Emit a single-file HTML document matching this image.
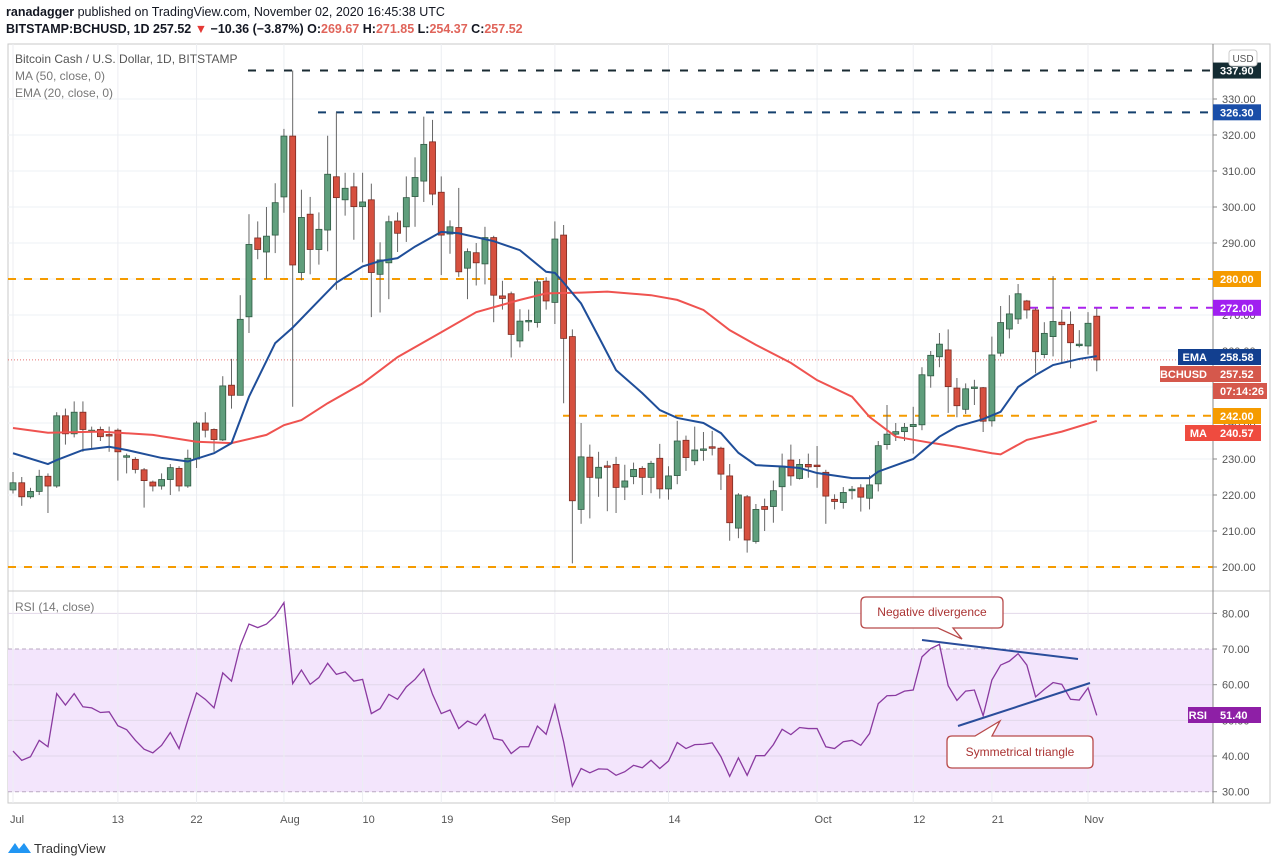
<!DOCTYPE html>
<html><head><meta charset="utf-8"><style>
html,body{margin:0;padding:0;background:#fff;width:1280px;height:866px;overflow:hidden}
svg{display:block;font-family:"Liberation Sans",sans-serif}
</style></head><body>
<svg id="chart" width="1280" height="866" viewBox="0 0 1280 866">
<g>
<text x="6" y="16" font-size="12.5" fill="#131722"><tspan font-weight="bold">ranadagger</tspan> published on TradingView.com, November 02, 2020 16:45:38 UTC</text>
<text x="6" y="33" font-size="12.5" font-weight="bold" fill="#131722">BITSTAMP:BCHUSD, 1D  257.52 <tspan fill="#e53935">▼</tspan> −10.36 (−3.87%) O:<tspan fill="#e0645a">269.67</tspan> H:<tspan fill="#e0645a">271.85</tspan> L:<tspan fill="#e0645a">254.37</tspan> C:<tspan fill="#e0645a">257.52</tspan></text>
</g>
<rect x="8" y="44" width="1262" height="759" fill="none" stroke="#c8c8c8"/>
<rect x="8" y="649" width="1205" height="143" fill="#f3e5fc"/>
<g id="grid"></g>
<g id="levels"></g>
<g id="candles"></g>
<g id="lines"></g>
<g id="rsi"></g>
<line x1="8" y1="591" x2="1270" y2="591" stroke="#c8c8c8"/>
<line x1="1213" y1="44" x2="1213" y2="803" stroke="#888"/>
<g id="axis"></g>
<g id="labels"></g>
<g font-size="12" fill="#555">
<text x="15" y="63">Bitcoin Cash / U.S. Dollar, 1D, BITSTAMP</text>
<text x="15" y="80" fill="#777">MA (50, close, 0)</text>
<text x="15" y="97" fill="#777">EMA (20, close, 0)</text>
<text x="15" y="611" fill="#777">RSI (14, close)</text>
</g>
<g><rect x="1229" y="50" width="28" height="16" rx="3" fill="#fff" stroke="#ccc"/><text x="1243" y="62" font-size="10" fill="#555" text-anchor="middle">USD</text></g>
<g>
<line x1="922" y1="640" x2="1078" y2="659" stroke="#2a4d9b" stroke-width="2"/>
<line x1="958" y1="726" x2="1090" y2="683" stroke="#2a4d9b" stroke-width="2"/>
<path d="M866,597 H998 Q1003,597 1003,602 V623 Q1003,628 998,628 H953 L962,639 L938,628 H866 Q861,628 861,623 V602 Q861,597 866,597 Z" fill="#fff" stroke="#b84a4a" stroke-width="1.3"/>
<text x="932" y="616" font-size="12" fill="#a33" text-anchor="middle">Negative divergence</text>
<path d="M952,736 H975 L1000,721 L992,736 H1088 Q1093,736 1093,741 V763 Q1093,768 1088,768 H952 Q947,768 947,763 V741 Q947,736 952,736 Z" fill="#fff" stroke="#b84a4a" stroke-width="1.3"/>
<text x="1020" y="756" font-size="12" fill="#a33" text-anchor="middle">Symmetrical triangle</text>
</g>
<g>
<path d="M8,853 L15,843 L19,849 L24,843 L31,853 Z" fill="#2196f3"/>
<text x="34" y="853" font-size="13" fill="#333">TradingView</text>
</g>
</svg>
<script>
const opens=[221.4,223.4,219.5,221,225.2,222.5,242,237,243,237.5,238.2,236.8,238,230.6,229.9,227,223.6,222.5,224.3,227.4,222.5,230,240,238.2,235.3,250.5,247.7,269.5,291.4,287.5,292.2,302.8,319.7,281.8,298,288.2,293.6,308.4,302,305.6,300.1,302,281.3,284.5,296.1,294.5,302.9,307.2,318.1,304.1,292.5,294.3,283,287.3,284.2,291.5,275.3,275.9,262.8,268.2,267.9,279.4,273.5,292.2,264,216,230.5,224.7,228.1,228.5,222.2,225.1,227.4,224.9,230.2,221.7,225.4,235.2,229.5,232.6,233.4,233,225.3,210.8,219.5,207.1,216.8,216.8,222.3,229.7,224.6,228.5,228.3,226.3,218.8,217.9,221.2,222,219.1,223.1,234,236.9,237.6,239,239.5,253.1,258.4,260.3,249.7,243.8,249.8,249.8,240.6,259.4,266.1,268.9,273.9,271.4,259,264,268,267.4,261.7,261.4,269.67];
const highs=[226.4,225,222,227,226,243,244,246,246,239,239,239,238.5,231.5,230.5,227.5,224,226,228.6,228,232.6,240.5,243,238.5,253,257.8,275.5,298,296,300,306.6,321.7,337.9,304.8,302.8,298.5,319.8,326.3,309.5,309.5,309.5,306.5,290.2,297.6,298.5,308.5,313.8,325.1,324.2,308.5,296.3,305.3,288.5,290,294.5,292,279.5,276.5,271.6,271.5,280.1,280.5,296,295,266,240,234,232,229.5,230.6,228.4,229,228,229.5,234.2,228,240.6,236.5,239,237.5,237.8,233.4,228.6,220.5,220,217.5,219,224,231.5,234,230,231.5,233.6,227,220.2,222.2,222.5,223,225.5,235,245,240,240,244.5,255.5,260,265,266,252.5,251,252,250,264,272.5,275.5,278.6,274.2,272,268,280.8,271.5,271,265.8,270.8,271.85];
const lows=[220.4,217,219,220,215,222,234,236,232,233,235,232,224,226,226,216.5,221,221.5,220,221,222,227.5,236,232,235,244,247.7,265,285.5,280,287.2,298.4,244.5,279.6,281.3,284,287.7,277,297.6,290.9,284.6,269.4,270.7,274.4,287.5,290.3,294.5,301.4,300.5,281.1,287,280.6,274.4,278.2,278.5,268,271.5,258.2,261,265.5,266.5,271.5,267.5,245.5,201,212,213.5,219.5,215.5,215,218.6,223,220,220.5,219,218.7,223,226.7,228.3,229.5,231,221.4,207.3,208,204,206.5,210,212.3,215.6,222.6,224.3,224.8,222,212,216,216.2,218.8,215.4,216,221,232.6,235,235,231.5,238,249.8,255.5,242.8,241.6,242.5,245,237.5,239,258.5,263.5,267.5,269,253.8,258,258.5,256.5,255.2,261,259,254.37];
const closes=[223.4,219.5,221,225.2,222.5,242,237,243,238.2,238,236.2,236.6,232,230.9,227.1,224,222.5,224.3,227.6,222.5,230.2,240,238,235.4,250.3,247.7,268.8,289.6,288.2,291.9,301.2,319.7,283.9,297.1,288.2,293.8,309.1,302.6,305.2,300.1,301.4,281.8,285.3,295.9,292.7,302.6,308.2,317.4,303.6,292.2,294.5,282,287.6,284.5,291.5,275.5,274.6,264.6,268.3,268.5,279.2,273.9,291.1,263.5,218.4,230.6,224.9,227.7,227.8,222.1,223.9,227.1,224.9,228.8,221.7,225.3,235,230.4,232.5,232.8,233,225.8,212.3,220,207.5,216,216,221.2,228,225.3,228.5,227.8,227.9,219.7,218.2,220.7,221.6,219.4,222.8,233.7,236.9,237.6,238.8,239.6,253.4,258.8,261.9,250.1,244.8,249.5,250,240.5,258.9,267.9,270.3,275.9,271.4,259.8,264.9,268.2,267.3,262.3,261.9,267.7,257.52];
const rsiValues=[41.4,38.8,39.8,44.4,42.6,57.5,54.3,57.5,53.8,53.5,52.2,52.4,48.5,47.4,44.4,41.9,40.9,43.0,46.6,42.1,50.1,57.7,55.9,53.5,63.3,61,70.9,77,76,77,79.3,83,60.3,64.1,60.1,62,66,62.9,63.6,61,61.5,51.9,53.3,57.3,55.9,59.4,61.5,64.4,57.3,51.9,52.9,47.7,49.8,48.7,51.7,44.9,44.4,40.7,42.6,42.6,48.4,46.1,54.3,44,31.6,36.5,35.3,36.4,36.3,34.6,35.6,37.4,36.7,38.8,36.5,38.6,43.8,42.1,43.2,43.3,43.7,39.8,34.3,39.5,34.6,40.1,40.1,43.2,47.5,46.0,48,47.7,47.7,42.6,42.1,44,44.4,43.0,46.3,54.7,56.9,57,58.2,58.5,67.8,70.1,71.3,59.7,55.6,58.2,58.5,51.3,61.3,65.5,66.6,68.7,65.5,56.6,58.7,60.6,60.1,55.9,55.7,59.1,51.4];
const maDays=[0,4,10,16,21,25,29,31,33,36,40,44,49,53,58,61,65,68,73,76,79,82,85,89,92,96,98,101,105,108,112,113,116,120,124];
const maValues=[238.6,237.3,237.6,236.7,234.8,234.4,236.7,239.4,240.8,245.5,251,258.3,265.2,270.8,274.2,276,276.2,276.5,275.5,274.2,271.4,265.8,261.7,256.7,251.9,247.3,241.7,236.2,234.5,233.4,231.6,231.3,235.3,237.6,240.57];
const emaDays=[0,4,5,8,11,13,17,20,23,25,27,30,32,35,37,40,42,44,46,49,51,55,58,61,62,63,65,67,69,72,74,76,79,81,83,85,88,90,92,96,98,99,103,106,108,111,113,115,117,119,122,124];
const emaValues=[231.6,228.6,229.7,232.5,233.4,232.5,230.3,229.3,231.6,234.4,247.3,262.2,266.5,274,279,283.5,285,285.8,289,293.1,292.7,290.5,288,282,281.7,279,273.2,264,254.7,248.3,243.6,241.4,240,237.2,231.7,228.3,227.9,227.5,226.1,224.7,224.7,226.5,230,236.2,239,241.1,243.1,250,253.3,256.1,257.8,258.58];
const priceTicks=[200,210,220,230,240,250,260,270,280,290,300,310,320,330];
const rsiTicks=[30,40,50,60,70,80];
const dateTickDays=[0,12,21,31,40,49,62,75,92,103,112,123];
const dateTickLabels=["Jul","13","22","Aug","10","19","Sep","14","Oct","12","21","Nov"];
const levelValues=[337.9,326.3,280,272,242,200];
const NS="http://www.w3.org/2000/svg";
const xs=i=>13+i*8.74;
const yp=p=>567-(p-200)*3.6;
const yr=r=>791.7-(r-30)*3.567;
function mk(tag,attrs,parent){const e=document.createElementNS(NS,tag);for(const k in attrs)e.setAttribute(k,attrs[k]);parent.appendChild(e);return e;}
const grid=document.getElementById('grid'),axis=document.getElementById('axis');
priceTicks.forEach(p=>{
 const l=mk('line',{x1:8,x2:1213,y1:yp(p),y2:yp(p),stroke:'#eef0f4'},grid);
 
 
 const t=mk('text',{x:1222,y:yp(p)+4,'font-size':11,fill:'#555'},axis);t.textContent=p.toFixed(2);
 
 
 mk('line',{x1:1213,x2:1217,y1:yp(p),y2:yp(p),stroke:'#888'},axis);
});
rsiTicks.forEach(r=>{
 const l=mk('line',{x1:8,x2:1213,y1:yr(r),y2:yr(r),stroke:(r==30||r==70)?'#b9a9c2':'#e2d8ea','stroke-dasharray':(r==30||r==70)?'4,3':'none'},grid);
 
 
 const t=mk('text',{x:1222,y:yr(r)+4,'font-size':11,fill:'#555'},axis);t.textContent=r.toFixed(2);
 
 
 mk('line',{x1:1213,x2:1217,y1:yr(r),y2:yr(r),stroke:'#888'},axis);
});
dateTickDays.forEach((d,k)=>{
 const l=mk('line',{x1:xs(d),x2:xs(d),y1:44,y2:803,stroke:'#eceef2'},grid);
 
 
 const t=mk('text',{x:xs(d)+(k==0?-3:(k<3?0:6)),y:823,'font-size':11,fill:'#555','text-anchor':k==0?'start':'middle'},axis);t.textContent=dateTickLabels[k];
 
 
});
mk('line',{x1:8,x2:1213,y1:yp(257.52),y2:yp(257.52),stroke:'#e57373','stroke-dasharray':'1,2'},grid);
const lev=document.getElementById('levels');
const levStyle=[['#1a2b33',248,'8,10'],['#15406e',318,'8,10'],['#f59b00',8,'8,8'],['#aa22ee',1030,'8,8'],['#f59b00',563,'8,8'],['#f59b00',8,'8,8']];
levelValues.forEach((v,k)=>{
 const l=mk('line',{x1:levStyle[k][1],x2:1213,y1:yp(v),y2:yp(v),stroke:levStyle[k][0],'stroke-width':2,'stroke-dasharray':levStyle[k][2]},lev);
 
 
});
const cg=document.getElementById('candles');
closes.forEach((c,i)=>{
 const o=opens[i],x=xs(i),up=c>=o;
 const w=mk('line',{x1:x,x2:x,y1:yp(highs[i]),y2:yp(lows[i]),stroke:'#666','stroke-width':1},cg);
 
 
 const top=yp(Math.max(o,c)),h=Math.max(1.5,Math.abs(yp(o)-yp(c)));
 const b=mk('rect',{x:x-3,y:top,width:6,height:h,fill:up?'#5f9e7c':'#d6503f',stroke:up?'#2f5a43':'#7b2b22','stroke-width':0.8},cg);
 
 
});
const lg=document.getElementById('lines');
const ma=mk('polyline',{points:maDays.map((d,k)=>xs(d)+','+yp(maValues[k])).join(' '),fill:'none',stroke:'#ef5350','stroke-width':2},lg);


const ema=mk('polyline',{points:emaDays.map((d,k)=>xs(d)+','+yp(emaValues[k])).join(' '),fill:'none',stroke:'#1f4e99','stroke-width':2},lg);


const rg=document.getElementById('rsi');
const rl=mk('polyline',{points:rsiValues.map((r,i)=>xs(i)+','+yr(r)).join(' '),fill:'none',stroke:'#8a3aa0','stroke-width':1.3},rg);


const lb=document.getElementById('labels');
function tag(name,txt,val,yc,col,left,w){
 w=w||48;
 const g=mk('g',{},lb);
 
 
 if(txt){mk('rect',{x:left,y:yc-8,width:1213-left,height:16,fill:col},g);const t=mk('text',{x:1207,y:yc+4,'font-size':11,fill:'#fff','text-anchor':'end','font-weight':'bold'},g);t.textContent=txt;}
 mk('rect',{x:1213,y:yc-8,width:w,height:16,fill:col},g);
 const t2=mk('text',{x:1220,y:yc+4,'font-size':11,fill:'#fff','font-weight':'bold'},g);t2.textContent=val;
}
tag('label-337','', '337.90',yp(337.9),'#142c33');
tag('label-326','', '326.30',yp(326.3),'#1a4ea8');
tag('label-280','', '280.00',yp(280),'#f59b00');
tag('label-272','', '272.00',yp(272),'#a020f0');
tag('label-ema','EMA','258.58',357,'#123f8f',1178);
tag('label-bchusd','BCHUSD','257.52',374,'#d5584c',1160);
tag('label-time','','07:14:26',391,'#d5584c',0,54);
tag('label-242','','242.00',416,'#f59b00');
tag('label-ma','MA','240.57',433,'#ef4b3f',1185);
tag('label-rsi','RSI','51.40',715,'#8e1fa6',1188);
</script>
</body></html>
